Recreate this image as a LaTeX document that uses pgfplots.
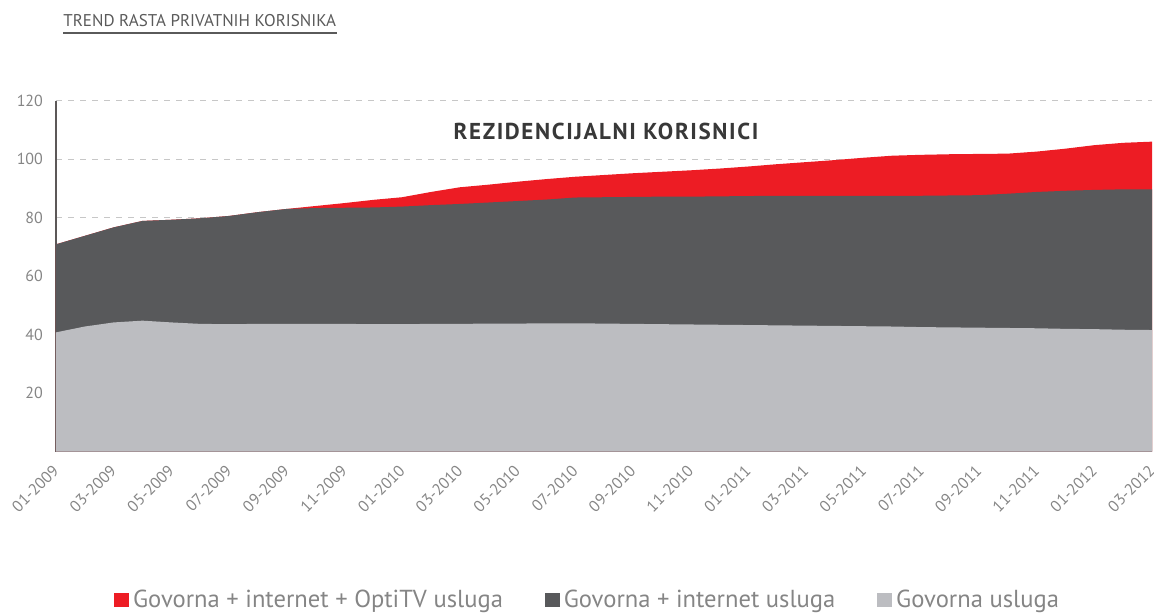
\documentclass[border=0pt]{standalone}
\usepackage{fontspec}
\setmainfont{PT Sans}
\usepackage{pgfplots}
\pgfplotsset{compat=1.18}
\usepackage{pgfplotstable}
\definecolor{cred}{HTML}{ED1C24}
\definecolor{cdark}{HTML}{58595B}
\definecolor{cgrey}{HTML}{BCBDC1}
\definecolor{ctext}{HTML}{5A5A5A}
\definecolor{ctick}{HTML}{858585}
\definecolor{caxis}{HTML}{5C5858}
\pgfplotstableread{
m g d r
0 40.8 70.9 70.9
1 42.8 73.8 73.8
2 44.2 76.7 76.7
3 44.8 78.9 78.9
4 44.2 79.3 79.3
5 43.7 79.8 79.8
6 43.6 80.6 80.6
7 43.7 81.9 81.9
8 43.7 83.0 83.0
9 43.7 83.3 84.0
10 43.7 83.4 85.0
11 43.6 83.5 86.1
12 43.6 83.8 87.0
13 43.7 84.3 88.8
14 43.7 84.7 90.4
15 43.8 85.2 91.3
16 43.8 85.7 92.3
17 43.9 86.2 93.2
18 43.9 86.9 94.0
19 43.8 87.0 94.6
20 43.7 87.1 95.2
21 43.6 87.2 95.7
22 43.5 87.2 96.2
23 43.4 87.3 96.8
24 43.3 87.4 97.5
25 43.2 87.5 98.3
26 43.1 87.5 99.0
27 43.0 87.5 99.7
28 42.9 87.5 100.5
29 42.8 87.5 101.2
30 42.6 87.5 101.5
31 42.5 87.6 101.7
32 42.4 87.7 101.8
33 42.3 88.2 101.9
34 42.2 88.8 102.6
35 42.0 89.2 103.6
36 41.9 89.5 104.8
37 41.7 89.7 105.6
38 41.6 89.7 106.0
}\data
\begin{document}
\begin{tikzpicture}
\useasboundingbox (0pt,0pt) rectangle (577pt,306pt);
\node[anchor=base west, text=ctext, font=\fontsize{8.5}{10}\selectfont, inner sep=0pt] at (31.5pt,292.5pt) {TREND RASTA PRIVATNIH KORISNIKA};
\draw[color=ctext, line width=0.6pt] (31.5pt,289.5pt) -- (168.5pt,289.5pt);
\begin{axis}[
  at={(28pt,80.15pt)}, anchor=south west,
  scale only axis, width=548pt, height=175.5pt,
  xmin=0, xmax=38, ymin=0, ymax=120,
  axis x line=bottom, axis y line=left,
  axis line style={-, draw=caxis, line width=0.7pt},
  xtick={0,2,...,38},
  xticklabels={01-2009,03-2009,05-2009,07-2009,09-2009,11-2009,01-2010,03-2010,05-2010,07-2010,09-2010,11-2010,01-2011,03-2011,05-2011,07-2011,09-2011,11-2011,01-2012,03-2012},
  ytick={20,40,...,120},
  major tick length=0pt,
  ymajorgrids,
  grid style={dashed, draw=black!22, line width=0.5pt},
  /pgf/number format/assume math mode=true,
  ticklabel style={text=ctick, font=\fontsize{8}{9}\selectfont},
  yticklabel style={xshift=-3pt},
  xticklabel style={inner sep=0pt, xshift=0pt, yshift=-8pt, rotate=45, anchor=east},
  legend columns=3,
  legend style={at={(0.486,-0.4225)}, anchor=center, draw=none, fill=none,
    font=\fontsize{12.3}{13}\selectfont, text=ctick,
    /tikz/every even column/.append style={column sep=19pt},
    inner sep=0pt},
  legend image code/.code={\fill[#1] (0pt,-3.7pt) rectangle (7.4pt,3.7pt);},
  clip=false,
]
\addplot[fill=cred, draw=none] table[x=m,y=r]{\data} \closedcycle;
\addlegendentry{Govorna + internet + OptiTV usluga}
\addplot[fill=cdark, draw=none] table[x=m,y=d]{\data} \closedcycle;
\addlegendentry{Govorna + internet usluga}
\addplot[fill=cgrey, draw=none] table[x=m,y=g]{\data} \closedcycle;
\addlegendentry{Govorna usluga}
\node[font=\bfseries\fontsize{11.5}{13}\selectfont\addfontfeatures{LetterSpace=7}, text=black!78] at (axis cs:19.07,109.6) {REZIDENCIJALNI KORISNICI};
\end{axis}
\end{tikzpicture}
\end{document}
